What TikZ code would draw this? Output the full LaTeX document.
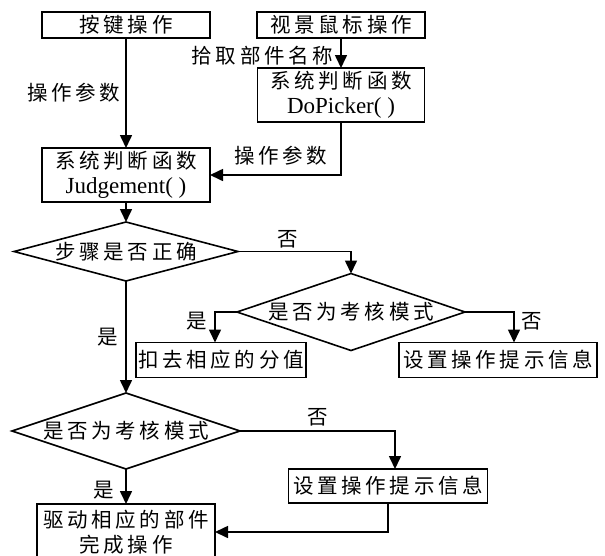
\documentclass[tikz,border=0pt]{standalone}
\usepackage{fontspec}
\setmainfont{Liberation Serif}
\newfontfamily\cjk{Noto Sans CJK SC}[LetterSpace=18]
\usetikzlibrary{arrows.meta, positioning, shapes.geometric}
\newcommand\funcname[1]{{\rmfamily\fontsize{23}{25}\selectfont #1}}

\begin{document}
\begin{tikzpicture}[x=1pt, y=-1pt, line width=1.6pt,
    font={\fontsize{20.5}{25}\selectfont\cjk},
    box/.style={draw, rectangle, inner sep=0pt, outer sep=0pt, align=center},
    dec/.style={draw, diamond, inner sep=0pt, outer sep=0pt},
    arr/.style={-{Triangle[width=12pt, length=13pt]}},
    lbl/.style={inner sep=1pt}]
    \useasboundingbox (0,0) rectangle (605,555);
    \node[box, minimum width=168pt, minimum height=26pt] (key) at (126,25) {按键操作};
    \node[box, minimum width=168pt, minimum height=26pt] (mouse) at (341,25) {视景鼠标操作};
    \node[box, minimum width=167pt, minimum height=54pt, below=30pt of mouse] (pick) {系统判断函数\\\funcname{DoPicker( )}};
    \node[box, minimum width=168pt, minimum height=54pt] (judge) at (126,175) {系统判断函数\\\funcname{Judgement( )}};
    \node[dec, minimum width=224pt, minimum height=59pt, below=20pt of judge] (step) {\makebox[0pt]{步骤是否正确}};
    \node[dec, minimum width=228pt, minimum height=77pt] (mode1) at (351,312) {\makebox[0pt]{是否为考核模式}};
    \node[box, minimum width=170pt, minimum height=35pt] (deduct) at (221,360) {扣去相应的分值};
    \node[box, minimum width=198pt, minimum height=35pt] (hint1) at (498,360) {设置操作提示信息};
    \node[dec, minimum width=228pt, minimum height=76pt] (mode2) at (126,431) {\makebox[0pt]{是否为考核模式}};
    \node[box, minimum width=199pt, minimum height=34pt] (hint2) at (388,486) {设置操作提示信息};
    \node[box, minimum width=178pt, minimum height=56pt] (drive) at (126,532) {驱动相应的部件\\完成操作};
    % connectors
    \draw[arr] (key) -- node[lbl, midway, left=4pt] (p1) {操作参数} (judge);
    \draw[arr] (mouse) -- node[lbl, midway, left=6pt, yshift=-3pt] (p2) {拾取部件名称} (pick);
    \draw[arr] (pick.south) |- node[lbl, pos=0.73, above=8pt] (p3) {操作参数} (judge.east);
    \draw[arr] (judge) -- (step);
    \draw[arr] (step.east) -| node[lbl, pos=0.22, above=2pt] (n1) {否} (mode1.north);
    \draw[arr] (mode1.west) -| node[lbl, pos=0.65, left=6pt] (y1) {是} ([xshift=-6pt]deduct.north);
    \draw[arr] (mode1.east) -| node[lbl, pos=0.65, right=6pt] (n2) {否} ([xshift=16pt]hint1.north);
    \draw[arr] (step) -- node[lbl, midway, left=6pt] (y2) {是} (mode2);
    \draw[arr] (mode2.east) -| node[lbl, pos=0.25, above=3pt] (n3) {否} ([xshift=7pt]hint2.north);
    \draw[arr] (mode2) -- node[lbl, pos=0.6, left=10pt] (y3) {是} (drive);
    \draw[arr] (hint2.south) |- (drive.east);
\end{tikzpicture}
\end{document}
